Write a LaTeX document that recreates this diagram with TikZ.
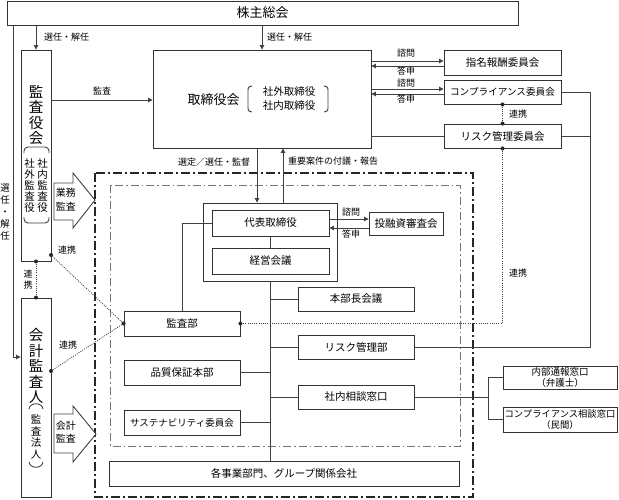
\documentclass[tikz,border=0pt]{standalone}
\usepackage{fontspec}
\setmainfont{Noto Sans CJK JP}
\usetikzlibrary{arrows.meta,calc}
\begin{document}
\begin{tikzpicture}[x=1pt,y=-1pt,
  bx/.style={draw=black!80, line width=0.9pt, fill=white, inner sep=0pt, font=\fontsize{10.5}{12}\selectfont},
  ln/.style={draw=black!75, line width=0.9pt},
  arr/.style={ln, -{Triangle[length=4.5pt,width=4.5pt]}},
  dots/.style={draw=black!75, line width=0.8pt, dash pattern=on 1pt off 1.2pt},
  lbl/.style={font=\fontsize{9}{10}\selectfont, inner sep=0pt},
  vtxt/.style={align=center, inner sep=0pt}
]
\useasboundingbox (0,0) rectangle (619,499);

% dash-dot frames
\draw[line width=1.3pt, draw=black!85, dash pattern=on 9pt off 3pt on 2pt off 3pt] (95,173) rectangle (473,497);
\draw[line width=0.8pt, draw=black!55, dash pattern=on 8pt off 3pt on 1.5pt off 3pt] (110,185) rectangle (460,446);

% main boxes
\node[bx, minimum width=511pt, minimum height=24pt, font=\fontsize{13}{14}\selectfont] (kabu) at (262.5,13) {株主総会};
\node[bx, minimum width=30pt, minimum height=211pt] (kansayaku) at (36,155.5) {};
\node[vtxt, font=\fontsize{14.5}{15.2}\selectfont] (kansayakuT) at (36,115) {監\\査\\役\\会};
\node[vtxt, font=\fontsize{10.5}{11}\selectfont] (shanai) at (42.5,186) {社\\内\\監\\査\\役};
\node[vtxt, font=\fontsize{10.5}{11}\selectfont] (shagai) at (29.5,186) {社\\外\\監\\査\\役};
\draw[ln, rounded corners=4pt] (24,153) -- (24,147) -- (49,147) -- (49,153);
\draw[ln, rounded corners=4pt] (24,217) -- (24,223) -- (49,223) -- (49,217);

\node[bx, minimum width=30pt, minimum height=199pt] (kaikei) at (36,397.5) {};
\node[vtxt, font=\fontsize{14.5}{15.5}\selectfont] (kaikeiT) at (36,366) {会\\計\\監\\査\\人};
\draw[ln] (29,409) .. controls (30,402) and (42,402) .. (43,409);
\node[vtxt, font=\fontsize{10.5}{11.5}\selectfont] (hojin) at (36,437) {監\\査\\法\\人};
\draw[ln] (29,462) .. controls (30,469) and (42,469) .. (43,462);

\node[bx, minimum width=218pt, minimum height=98pt] (tori) at (262,99) {};
\node[font=\fontsize{13}{14}\selectfont, inner sep=0pt] (toriT) at (213.5,100) {取締役会};
\node[align=center, font=\fontsize{10.5}{14}\selectfont, inner sep=0pt] (toriS) at (289,99) {社外取締役\\社内取締役};
\draw[ln] (252,86) .. controls (248,87) .. (248,92) -- (248,106) .. controls (248,111) .. (252,112);
\draw[ln] (324,86) .. controls (328,87) .. (328,92) -- (328,106) .. controls (328,111) .. (324,112);

\node[bx, minimum width=117pt, minimum height=25pt] (shimei) at (502.5,62.5) {指名報酬委員会};
\node[bx, minimum width=117pt, minimum height=24pt, font=\fontsize{9.6}{11}\selectfont] (comp) at (502.5,92) {コンプライアンス委員会};
\node[bx, minimum width=117pt, minimum height=24pt] (risk) at (502.5,136) {リスク管理委員会};

\node[bx, minimum width=134pt, minimum height=78pt] (group) at (270,242) {};
\node[bx, minimum width=117pt, minimum height=26pt] (daihyo) at (270.5,223) {代表取締役};
\node[bx, minimum width=117pt, minimum height=26pt] (keiei) at (270.5,261) {経営会議};
\node[bx, minimum width=74pt, minimum height=23pt] (toyushi) at (406,223.5) {投融資審査会};
\node[bx, minimum width=116pt, minimum height=24pt] (honbucho) at (356,299) {本部長会議};
\node[bx, minimum width=116pt, minimum height=24pt] (riskbu) at (356,347) {リスク管理部};
\node[bx, minimum width=116pt, minimum height=24pt] (sodan) at (356,397) {社内相談窓口};
\node[bx, minimum width=116pt, minimum height=25pt] (kansabu) at (182,323.5) {監査部};
\node[bx, minimum width=116pt, minimum height=25pt] (hinshitsu) at (182,372.5) {品質保証本部};
\node[bx, minimum width=116pt, minimum height=25pt, font=\fontsize{9.5}{11}\selectfont] (sustain) at (182,422.5) {サステナビリティ委員会};
\node[bx, minimum width=350pt, minimum height=25pt] (jigyo) at (284,473.5) {各事業部門、グループ関係会社};
\node[bx, minimum width=114pt, minimum height=23pt, align=center, font=\fontsize{9.5}{11.5}\selectfont] (naibu) at (560,377.5) {内部通報窓口\\（弁護士）};
\node[bx, minimum width=114pt, minimum height=25pt, align=center, font=\fontsize{9.3}{11.5}\selectfont] (compsodan) at (560,419.5) {コンプライアンス相談窓口\\（民間）};

% election arrows
\draw[arr] (kabu.south -| kansayaku) -- (kansayaku.north);
\node[lbl, anchor=west] (sen1) at (44,37) {選任・解任};
\draw[arr] (kabu.south -| tori.north) -- (tori.north);
\node[lbl, anchor=west] (sen2) at (267,37) {選任・解任};
\draw[arr] (kabu.south -| 13,0) -- (13,357) -- (kaikei.west |- 0,357);
\node[vtxt, font=\fontsize{9.4}{12}\selectfont] (sen3) at (5,212) {選\\任\\・\\解\\任};

% audit arrow
\draw[arr] (kansayaku.east |- 0,100) -- (tori.west |- 0,100);
\node[lbl] (kansaL) at (102,91) {監査};

% committees
\draw[arr] (tori.east |- 0,61) -- (shimei.west |- 0,61);
\draw[arr] (shimei.west |- 0,66) -- (tori.east |- 0,66);
\node[lbl] (shimon1) at (406,53) {諮問};
\node[lbl] (toshin1) at (406,71.5) {答申};
\draw[arr] (tori.east |- 0,89) -- (comp.west |- 0,89);
\draw[arr] (comp.west |- 0,94) -- (tori.east |- 0,94);
\node[lbl] (shimon2) at (406,83.5) {諮問};
\node[lbl] (toshin2) at (406,99.5) {答申};
\draw[ln] (tori.east |- risk.west) -- (risk.west);
\draw[ln] (comp.east) -- (590,92) -- (590,347) -- (riskbu.east);
\draw[ln] (risk.east) -- (590,136);
\draw[dots] (comp.south) -- (risk.north);
\fill[black!85] (comp.south) circle (2pt) (risk.north) circle (2pt);
\node[lbl] (renkei1) at (518,114) {連携};
\draw[dots] (risk.south) -- (risk.south |- kansabu.east) -- (kansabu.east);
\fill[black!85] (risk.south) circle (2pt) (kansabu.east) circle (2pt);
\node[lbl] (renkei2) at (518,273) {連携};

% board <-> representative
\draw[arr] (tori.south -| 257,0) -- (group.north -| 257,0);
\node[lbl] (sentei) at (214,162) {選定／選任・監督};
\draw[arr] (group.north -| 283,0) -- (tori.south -| 283,0);
\node[lbl, anchor=west] (juyo) at (288,161) {重要案件の付議・報告};

% internal structure
\draw[ln] (daihyo.south) -- (keiei.north);
\draw[arr] (daihyo.east |- 0,219) -- (toyushi.west |- 0,219);
\draw[arr] (toyushi.west |- 0,228) -- (daihyo.east |- 0,228);
\node[lbl] (shimon3) at (351,212.5) {諮問};
\node[lbl] (toshin3) at (351,234) {答申};
\draw[ln] (group.south) -- (jigyo.north -| group.south);
\draw[ln] (group.south |- honbucho.west) -- (honbucho.west);
\draw[ln] (group.south |- riskbu.west) -- (riskbu.west);
\draw[ln] (group.south |- sodan.west) -- (sodan.west);
\draw[ln] (hinshitsu.east) -- (hinshitsu.east -| group.south);
\draw[ln] (sustain.east) -- (sustain.east -| group.south);
\draw[ln] (kansabu.north) -- (kansabu.north |- daihyo.west) -- (daihyo.west);
\draw[ln] (sodan.east) -- (488,397);
\draw[ln] (naibu.west) -- (488,377.5) -- (488,419.5) -- (compsodan.west);

% auditor links
\draw[dots] (kansayaku.south) -- (kaikei.north);
\fill[black!85] (kansayaku.south) circle (2pt) (kaikei.north) circle (2pt);
\node[vtxt, font=\fontsize{9}{11}\selectfont] (renkei3) at (28,280) {連\\携};
\coordinate (ka1) at (51,255);
\coordinate (ka2) at (51,371);
\draw[dots] (ka1) -- (kansabu.west);
\draw[dots] (ka2) -- (kansabu.west);
\fill[black!85] (ka1) circle (2pt) (ka2) circle (2pt) (kansabu.west) circle (2pt);
\node[lbl] (renkei4) at (67,250) {連携};
\node[lbl] (renkei5) at (68,345) {連携};

% block arrows
\draw[ln, fill=white] (54,183) -- (73,183) -- (73,173) -- (95,200) -- (73,228) -- (73,220) -- (54,220) -- cycle;
\node[vtxt, font=\fontsize{10}{14}\selectfont] (gyomu) at (66,200) {業務\\監査};
\draw[ln, fill=white] (54,414) -- (73,414) -- (73,406) -- (96,434) -- (73,462) -- (73,453) -- (54,453) -- cycle;
\node[vtxt, font=\fontsize{10}{13}\selectfont] (kaikeiA) at (66,432) {会計\\監査};
\end{tikzpicture}
\end{document}
